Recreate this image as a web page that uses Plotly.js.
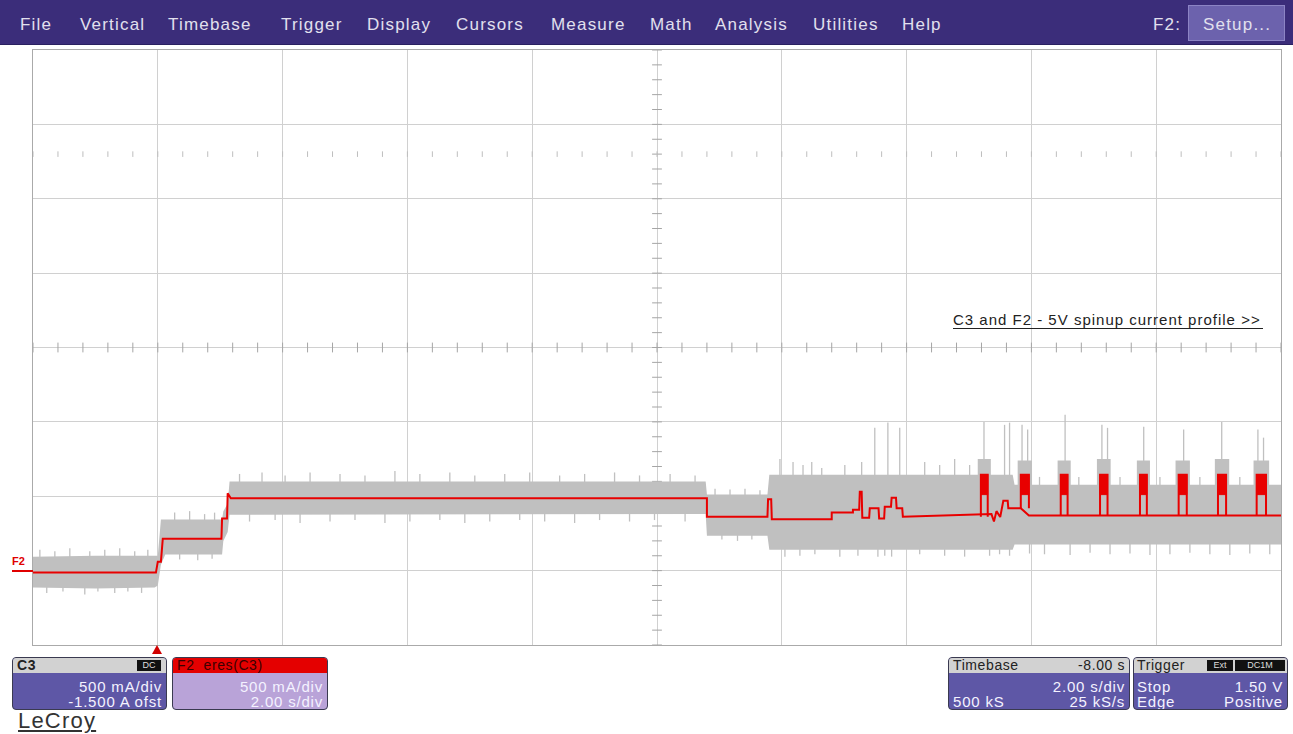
<!DOCTYPE html>
<html><head><meta charset="utf-8">
<script src="https://cdn.plot.ly/plotly-3.0.1.min.js"></script>
<style>
body{margin:0;width:1293px;height:734px;overflow:hidden;background:#fff;font-family:"Liberation Sans",Arial,sans-serif;}
#chart{position:absolute;left:0;top:0;width:1293px;height:734px;}
.ov{position:absolute;white-space:nowrap;}
#menubar{position:absolute;left:0;top:0;width:1293px;height:45px;background:#3b2d7a;border-bottom:1px solid #2a2060;box-sizing:border-box;}
.mi{position:absolute;top:15px;font-size:17px;color:#e2e0ee;letter-spacing:1.2px;}
#setup{position:absolute;left:1188px;top:5px;width:97px;height:36px;background:#6c62ad;border:1px solid #8c84c4;box-sizing:border-box;}
.box{position:absolute;border:1px solid #3a3a50;border-radius:4px;overflow:hidden;box-sizing:border-box;}
.hdr{position:absolute;left:0;top:0;right:0;height:15px;background:#d2d2d2;}
.ht{position:absolute;top:0px;font-size:14px;line-height:15px;color:#222;letter-spacing:0.6px;}
.bd{position:absolute;font-size:15px;line-height:15px;color:#f4f2ff;letter-spacing:0.8px;}
.badge{position:absolute;top:2px;height:11px;background:#111;color:#ddd;font-size:9px;line-height:11px;text-align:center;}
</style>
</head><body>
<div id="chart"></div>

<div id="menubar">
  <div class="mi" style="left:20px">File</div>
  <div class="mi" style="left:80px">Vertical</div>
  <div class="mi" style="left:168px">Timebase</div>
  <div class="mi" style="left:281px">Trigger</div>
  <div class="mi" style="left:367px">Display</div>
  <div class="mi" style="left:456px">Cursors</div>
  <div class="mi" style="left:551px">Measure</div>
  <div class="mi" style="left:650px">Math</div>
  <div class="mi" style="left:715px">Analysis</div>
  <div class="mi" style="left:813px">Utilities</div>
  <div class="mi" style="left:902px">Help</div>
  <div class="mi" style="left:1153px">F2:</div>
  <div id="setup"><div class="mi" style="left:14px;top:9px">Setup...</div></div>
</div>

<div class="ov" style="left:953px;top:312px;font-size:15px;color:#222;letter-spacing:1px;border-bottom:1px solid #222;padding-right:2px;line-height:16px">C3 and F2 - 5V spinup current profile &gt;&gt;</div>

<div class="ov" style="left:12px;top:555px;font-size:11px;font-weight:bold;color:#e00000">F2</div>
<div class="ov" style="left:12px;top:570px;width:21px;height:2px;background:#e00000"></div>
<div class="ov" style="left:152px;top:645px;width:0;height:0;border-left:5px solid transparent;border-right:5px solid transparent;border-bottom:9px solid #d00000"></div>

<div class="box" style="left:12px;top:657px;width:155px;height:53px;background:#5e57a6">
  <div class="hdr"><div class="ht" style="left:4px;font-weight:bold">C3</div>
    <div class="badge" style="left:124px;width:24px">DC</div></div>
  <div class="bd" style="right:4px;top:21px">500 mA/div</div>
  <div class="bd" style="right:4px;top:36px">-1.500 A ofst</div>
</div>
<div class="box" style="left:172px;top:657px;width:156px;height:53px;background:#b9a3d8">
  <div class="hdr" style="background:#e40000"><div class="ht" style="left:4px;color:#3a0000">F2&nbsp;&nbsp;eres(C3)</div></div>
  <div class="bd" style="right:4px;top:21px">500 mA/div</div>
  <div class="bd" style="right:4px;top:36px">2.00 s/div</div>
</div>
<div class="box" style="left:948px;top:657px;width:182px;height:53px;background:#5e57a6">
  <div class="hdr"><div class="ht" style="left:4px">Timebase</div><div class="ht" style="right:4px">-8.00 s</div></div>
  <div class="bd" style="right:4px;top:21px">2.00 s/div</div>
  <div class="bd" style="left:4px;top:36px">500 kS</div>
  <div class="bd" style="right:4px;top:36px">25 kS/s</div>
</div>
<div class="box" style="left:1133px;top:657px;width:155px;height:53px;background:#5e57a6">
  <div class="hdr"><div class="ht" style="left:3px">Trigger</div>
    <div class="badge" style="left:73px;width:26px">Ext</div>
    <div class="badge" style="left:101px;width:50px">DC1M</div></div>
  <div class="bd" style="left:3px;top:21px">Stop</div>
  <div class="bd" style="right:4px;top:21px">1.50 V</div>
  <div class="bd" style="left:3px;top:36px">Edge</div>
  <div class="bd" style="right:4px;top:36px">Positive</div>
</div>
<div class="ov" style="left:18px;top:708px;font-size:22px;color:#333;text-decoration:underline;letter-spacing:1.2px">LeCroy</div>

<script>
// ---- data (time in s relative to trigger, current in A) ----
// F2 (enhanced-resolution trace) baseline path
const f2T = [-2.00,-0.03,0.00,0.05,0.08,1.02,1.03,1.11,1.12,1.17,8.80,8.80,9.77,9.78,9.83,9.84,10.80,10.80,11.14,11.14,11.24,11.25,11.28,11.29,11.40,11.41,11.55,11.56,11.64,11.65,11.75,11.76,11.83,11.84,11.93,11.94,13.36,13.40,13.44,13.50,13.55,13.62,13.63,13.83,13.96,18.00];
const f2A = [-0.013,-0.013,0.06,0.06,0.215,0.215,0.35,0.35,0.52,0.487,0.487,0.363,0.363,0.48,0.48,0.345,0.345,0.39,0.39,0.41,0.41,0.53,0.53,0.355,0.355,0.42,0.42,0.35,0.35,0.43,0.43,0.49,0.49,0.42,0.42,0.363,0.38,0.33,0.40,0.36,0.47,0.47,0.42,0.42,0.37,0.37];

// F2 periodic pulses
const pulseStart = [13.19,13.83,14.47,15.10,15.74,16.36,16.99,17.61];
const pulseEnd   = [13.30,13.96,14.58,15.22,15.85,16.49,17.12,17.76];
const pulseTop   = [0.645,0.645,0.645,0.645,0.645,0.645,0.645,0.645];
const pulseBlockLow = [0.511,0.511,0.511,0.511,0.511,0.511,0.511,0.511];
const pulseBase  = [0.363,0.42,0.37,0.37,0.37,0.37,0.37,0.37];
const haloTop    = [0.75,0.74,0.74,0.75,0.74,0.74,0.75,0.74];
const haloLow    = [0.40,0.40,0.40,0.40,0.40,0.40,0.40,0.40];

// C3 raw-channel noise envelope
const c3T  = [-2.00,-1.00,-0.05,0.00,0.05,0.12,1.03,1.05,1.12,1.15,8.78,8.80,9.77,9.80,13.70,13.73,18.00];
const c3Hi = [0.094,0.100,0.100,0.100,0.343,0.343,0.343,0.400,0.450,0.600,0.600,0.511,0.511,0.645,0.645,0.578,0.578];
const c3Lo = [-0.114,-0.120,-0.114,-0.100,0.040,0.108,0.108,0.200,0.260,0.376,0.380,0.235,0.235,0.141,0.141,0.175,0.175];

// C3 individual noise spikes (time, top, bottom)
const spkT = [
 -1.89,-1.65,-1.41,-1.09,-0.85,-0.61,-0.37,-0.16,
 -1.78,-1.52,-1.17,-0.96,-0.69,-0.48,-0.26,
 0.27,0.51,0.75,0.91, 0.35,0.64,0.87,
 1.31,1.67,2.04,2.44,2.92,3.32,3.80,4.20,4.68,5.08,5.56,5.96,6.44,6.84,7.32,7.72,8.21,8.61,
 1.47,1.88,2.28,2.76,3.16,3.64,4.04,4.52,4.92,5.32,5.80,6.20,6.68,7.08,7.56,7.96,8.45,
 8.93,9.17,9.41,9.65, 9.04,9.29,9.52,
 9.97,10.18,10.34,10.48,10.64,11.01,11.28,12.29,12.53,12.77,13.01,
 11.49,11.70,11.89,13.24,13.57,13.65,
 10.05,10.29,10.53,10.93,11.22,11.54,11.65,11.76,12.21,12.61,12.93,13.33,13.49,13.65,
 13.85,13.94,14.54,15.13,15.22,15.80,16.44,17.05,17.63,17.72,
 14.13,14.76,15.42,16.06,16.70,17.34,
 13.97,14.21,14.62,14.94,15.26,15.58,15.90,16.22,16.54,16.86,17.18,17.50,17.82];
const spkTop = [
 0.14,0.13,0.15,0.13,0.14,0.15,0.13,0.14,
 0.0,0.0,0.0,0.0,0.0,0.0,0.0,
 0.39,0.40,0.38,0.39, 0.2,0.2,0.2,
 0.65,0.66,0.64,0.66,0.65,0.64,0.67,0.65,0.66,0.64,0.65,0.66,0.64,0.65,0.66,0.64,0.65,0.64,
 0.49,0.49,0.49,0.49,0.49,0.49,0.49,0.49,0.49,0.49,0.49,0.49,0.49,0.49,0.49,0.49,0.49,
 0.55,0.545,0.55,0.54, 0.36,0.36,0.36,
 0.75,0.73,0.71,0.73,0.69,0.71,0.73,0.73,0.71,0.75,0.71,
 0.961,0.995,0.961,1.0,0.98,0.995,
 0.35,0.35,0.35,0.35,0.35,0.35,0.35,0.35,0.35,0.35,0.35,0.35,0.35,0.35,
 0.98,0.948,1.048,0.98,0.96,0.968,0.948,1.0,0.948,0.894,
 0.63,0.63,0.63,0.63,0.63,0.63,
 0.37,0.37,0.37,0.37,0.37,0.37,0.37,0.37,0.37,0.37,0.37,0.37,0.37];
const spkBot = [
 0.0,0.0,0.0,0.0,0.0,0.0,0.0,0.0,
 -0.15,-0.14,-0.16,-0.14,-0.15,-0.14,-0.15,
 0.2,0.2,0.2,0.2, 0.075,0.07,0.08,
 0.49,0.49,0.49,0.49,0.49,0.49,0.49,0.49,0.49,0.49,0.49,0.49,0.49,0.49,0.49,0.49,0.49,0.49,
 0.33,0.34,0.32,0.33,0.34,0.32,0.33,0.34,0.32,0.33,0.34,0.33,0.32,0.34,0.33,0.34,0.33,
 0.36,0.36,0.36,0.36, 0.21,0.20,0.21,
 0.35,0.35,0.35,0.35,0.35,0.35,0.35,0.35,0.35,0.35,0.35,
 0.35,0.35,0.35,0.37,0.37,0.37,
 0.094,0.10,0.11,0.094,0.10,0.094,0.10,0.094,0.11,0.10,0.094,0.10,0.11,0.10,
 0.37,0.37,0.37,0.37,0.37,0.37,0.37,0.37,0.37,0.37,
 0.37,0.37,0.37,0.37,0.37,0.37,
 0.115,0.11,0.105,0.12,0.11,0.115,0.105,0.11,0.12,0.11,0.105,0.115,0.11];

// ---- build traces ----
const GRAY = 'rgb(192,192,192)';
const RED = 'rgb(232,0,0)';
const traces = [];

// graticule ticks on center lines and dotted row
const tkx=[], tky=[], vx=[], vy=[], dx=[], dy=[];
for (let i=0;i<=50;i++){ tkx.push(-2+i*0.4); tky.push(1.5); dx.push(-2+i*0.4); dy.push(2.8); }
for (let j=0;j<=40;j++){ vx.push(8); vy.push(-0.5+j*0.1); }
traces.push({x:tkx,y:tky,mode:'markers',marker:{symbol:'line-ns',size:7,line:{width:1,color:'rgb(165,165,165)'}},hoverinfo:'skip'});
traces.push({x:vx,y:vy,mode:'markers',marker:{symbol:'line-ew',size:7,line:{width:1,color:'rgb(165,165,165)'}},hoverinfo:'skip'});
traces.push({x:dx,y:dy,mode:'markers',marker:{symbol:'line-ns',size:4,line:{width:1,color:'rgb(190,190,190)'}},hoverinfo:'skip'});

// C3 envelope
traces.push({x:c3T,y:c3Hi,mode:'lines',line:{width:0,color:GRAY},hoverinfo:'skip'});
traces.push({x:c3T,y:c3Lo,mode:'lines',line:{width:0,color:GRAY},fill:'tonexty',fillcolor:GRAY,hoverinfo:'skip'});

// C3 spikes
const sx=[], sy=[];
spkT.forEach((t,i)=>{ sx.push(t,t,null); sy.push(spkBot[i],spkTop[i],null); });
traces.push({x:sx,y:sy,mode:'lines',line:{width:1.3,color:GRAY},connectgaps:false,hoverinfo:'skip'});

// gray halos around pulses
const hx=[], hy=[];
pulseStart.forEach((s,i)=>{ const e=pulseEnd[i];
  hx.push(s-0.05,s-0.05,e+0.05,e+0.05,s-0.05,null);
  hy.push(haloLow[i],haloTop[i],haloTop[i],haloLow[i],haloLow[i],null); });
traces.push({x:hx,y:hy,mode:'lines',line:{width:0,color:GRAY},fill:'toself',fillcolor:GRAY,hoverinfo:'skip'});

// F2 main trace
traces.push({x:f2T,y:f2A,mode:'lines',line:{width:2,color:RED},hoverinfo:'skip'});

// F2 pulses outline
const px=[], py=[];
pulseStart.forEach((s,i)=>{ const e=pulseEnd[i];
  px.push(s,s,e,e,null); py.push(pulseBase[i],pulseTop[i],pulseTop[i],pulseBase[i],null); });
traces.push({x:px,y:py,mode:'lines',line:{width:2,color:RED},connectgaps:false,hoverinfo:'skip'});

// F2 pulse solid blocks
const bx=[], by=[];
pulseStart.forEach((s,i)=>{ const e=pulseEnd[i];
  bx.push(s,s,e,e,s,null); by.push(pulseBlockLow[i],pulseTop[i],pulseTop[i],pulseBlockLow[i],pulseBlockLow[i],null); });
traces.push({x:bx,y:by,mode:'lines',line:{width:1,color:RED},fill:'toself',fillcolor:RED,hoverinfo:'skip'});

const axBase = {showticklabels:false,ticks:'',zeroline:false,showline:true,mirror:true,
  linecolor:'rgb(170,170,170)',linewidth:1,gridcolor:'rgb(208,208,208)',gridwidth:1,fixedrange:true};
const layout = {
  width:1293,height:734,
  margin:{l:33,r:12,t:50,b:89,pad:0},
  paper_bgcolor:'rgba(0,0,0,0)',plot_bgcolor:'#ffffff',
  showlegend:false,
  xaxis:Object.assign({range:[-2,18],dtick:2,tick0:-2},axBase),
  yaxis:Object.assign({range:[-0.5,3.5],dtick:0.5,tick0:-0.5},axBase)
};
Plotly.newPlot('chart',traces,layout,{staticPlot:true,displayModeBar:false});
</script>
</body></html>
